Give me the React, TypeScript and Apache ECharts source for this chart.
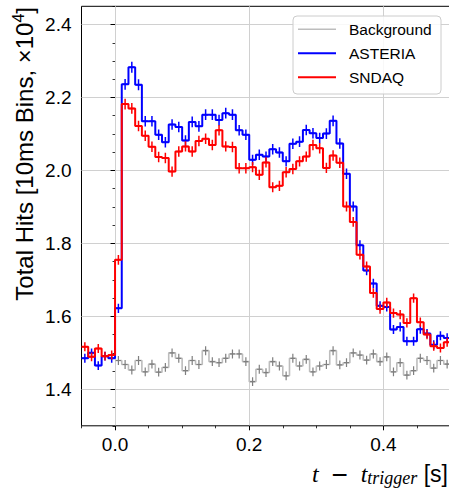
import React, { useEffect, useRef } from 'react';
import * as echarts from 'echarts';

const BIN_WIDTH = 0.01;
const SIGNAL_START = -0.05;
const BACKGROUND_START = 0.0;

const xTicks = [0.0, 0.2, 0.4];
const yTicks = [1.4, 1.6, 1.8, 2.0, 2.2, 2.4];

// Total hits per 10 ms bin (x 10^4), bins starting at -0.05 s
const asteria = [
  1.485, 1.5, 1.465, 1.491, 1.485, 1.622, 2.236, 2.283, 2.235, 2.135,
  2.135, 2.098, 2.077, 2.126, 2.119, 2.082, 2.133, 2.121, 2.153, 2.153,
  2.138, 2.157, 2.153, 2.11, 2.098, 2.029, 2.043, 2.038, 2.058, 2.049,
  2.025, 2.073, 2.079, 2.111, 2.102, 2.089, 2.101, 2.136, 2.074, 1.991,
  1.901, 1.795, 1.726, 1.69, 1.629, 1.626, 1.564, 1.571, 1.532, 1.532,
  1.565, 1.553, 1.522, 1.547, 1.541,
];

const sndaq = [
  1.517, 1.489, 1.512, 1.491, 1.494, 1.755, 2.182, 2.17, 2.122, 2.095,
  2.065, 2.037, 2.034, 1.997, 2.052, 2.066, 2.052, 2.081, 2.087, 2.07,
  2.11, 2.066, 2.064, 2.006, 2.006, 2.009, 1.988, 2.022, 1.954, 1.958,
  1.995, 2.004, 2.025, 2.038, 2.07, 2.061, 2.007, 2.041, 2.021, 1.901,
  1.859, 1.769, 1.737, 1.664, 1.62, 1.638, 1.609, 1.605, 1.582, 1.65,
  1.584, 1.55, 1.518, 1.513, 1.529,
];

// Background, bins starting at 0.0 s
const background = [
  1.479, 1.468, 1.453, 1.479, 1.448, 1.469, 1.447, 1.46, 1.5, 1.485,
  1.451, 1.479, 1.468, 1.506, 1.476, 1.473, 1.485, 1.497, 1.497, 1.476,
  1.421, 1.455, 1.446, 1.476, 1.464, 1.437, 1.485, 1.464, 1.482, 1.448,
  1.464, 1.468, 1.506, 1.467, 1.473, 1.5, 1.494, 1.48, 1.497, 1.476,
  1.489, 1.448, 1.473, 1.439, 1.451, 1.485, 1.479, 1.458, 1.479, 1.469,
];

const r4 = (v: number) => Math.round(v * 10000) / 10000;

function stepData(values: number[], start: number) {
  const pts = values.map((v, i) => [r4(start + i * BIN_WIDTH), v]);
  pts.push([r4(start + values.length * BIN_WIDTH), values[values.length - 1]]);
  return pts;
}

function errData(values: number[], start: number) {
  return values.map((v, i) => [r4(start + (i + 0.5) * BIN_WIDTH), v, Math.sqrt(v * 1e4) / 1e4]);
}

function lineSeries(name: string, values: number[], start: number, color: string, width: number, z: number) {
  return {
    type: 'line',
    name,
    data: stepData(values, start),
    step: 'end',
    showSymbol: false,
    symbol: 'none',
    color,
    lineStyle: { color, width },
    z,
    silent: true,
    xAxisIndex: 0,
    yAxisIndex: 0,
  };
}

function errSeries(name: string, values: number[], start: number, color: string, width: number, z: number) {
  return {
    type: 'custom',
    name: name + ' errors',
    data: errData(values, start),
    encode: { x: 0, y: 1 },
    clip: true,
    silent: true,
    z,
    xAxisIndex: 0,
    yAxisIndex: 0,
    renderItem: (_params: any, api: any) => {
      const x = api.value(0);
      const y = api.value(1);
      const e = api.value(2);
      const p1 = api.coord([x, y + e]);
      const p2 = api.coord([x, y - e]);
      const c = api.coord([x, y]);
      return {
        type: 'group',
        children: [
          { type: 'line', shape: { x1: p1[0], y1: p1[1], x2: p2[0], y2: p2[1] }, style: { stroke: color, lineWidth: width } },
          { type: 'line', shape: { x1: c[0] - 2.5, y1: c[1], x2: c[0] + 2.5, y2: c[1] }, style: { stroke: color, lineWidth: width } },
        ],
      };
    },
  };
}

const SANS = 'Liberation Sans';
const SERIF = 'Liberation Serif';

export default function App() {
  const ref = useRef<HTMLDivElement>(null);
  useEffect(() => {
    document.body.style.margin = '0';
    document.body.style.overflow = 'hidden';
    const chart = echarts.init(ref.current as HTMLDivElement, null, { renderer: 'svg' });
    const fmt = (v: number) => v.toFixed(1);
    const legendItems = [
      { label: 'Background', color: '#bdbdbd', width: 1.6 },
      { label: 'ASTERIA', color: '#0000ff', width: 2 },
      { label: 'SNDAQ', color: '#ff0000', width: 2 },
    ];
    const legendGraphics: any[] = [
      {
        type: 'rect',
        shape: { x: 293, y: 16, width: 148, height: 78, r: 4 },
        style: { fill: 'rgba(255,255,255,0.85)', stroke: '#cccccc', lineWidth: 1 },
        z: 100,
      },
    ];
    legendItems.forEach((it, i) => {
      const cy = 29.3 + i * 24;
      legendGraphics.push({
        type: 'line',
        shape: { x1: 298, y1: cy, x2: 336, y2: cy },
        style: { stroke: it.color, lineWidth: it.width },
        z: 101,
      });
      legendGraphics.push({
        type: 'text',
        x: 349,
        y: cy,
        style: { text: it.label, fontFamily: SANS, fontSize: 15.5, fill: '#000', align: 'left', verticalAlign: 'middle' },
        z: 101,
      });
    });

    const option: any = {
      animation: false,
      backgroundColor: '#ffffff',
      grid: {
        left: 81.5,
        top: 6.3,
        width: 369,
        height: 419.5,
        show: true,
        borderColor: '#000',
        borderWidth: 1,
        backgroundColor: 'transparent',
        containLabel: false,
        outerBoundsMode: 'none',
      },
      xAxis: [
        {
          type: 'value',
          min: -0.05,
          max: 0.5,
          interval: 0.05,
          position: 'bottom',
          axisLine: { show: false },
          axisTick: { show: true, length: 2.5, lineStyle: { color: '#000', width: 0.8 } },
          axisLabel: { show: false },
          splitLine: { show: false },
        },
        {
          type: 'value',
          min: -0.05,
          max: 0.5,
          interval: 0.05,
          position: 'bottom',
          axisLine: { show: false },
          axisTick: { show: true, customValues: xTicks, length: 4.5, lineStyle: { color: '#000', width: 1 } },
          axisLabel: { show: true, customValues: xTicks, formatter: fmt, fontFamily: SANS, fontSize: 19, color: '#000', margin: 9 },
          splitLine: { show: true, lineStyle: { color: '#d0d0d0', width: 1 } },
        },
      ],
      yAxis: [
        {
          type: 'value',
          min: 1.3,
          max: 2.45,
          interval: 0.05,
          position: 'left',
          axisLine: { show: false },
          axisTick: { show: true, length: 2.5, lineStyle: { color: '#000', width: 0.8 } },
          axisLabel: { show: false },
          splitLine: { show: false },
        },
        {
          type: 'value',
          min: 1.3,
          max: 2.45,
          interval: 0.05,
          position: 'left',
          axisLine: { show: false },
          axisTick: { show: true, customValues: yTicks, length: 4.5, lineStyle: { color: '#000', width: 1 } },
          axisLabel: { show: true, customValues: yTicks, formatter: fmt, fontFamily: SANS, fontSize: 19, color: '#000', margin: 10 },
          splitLine: { show: true, lineStyle: { color: '#d0d0d0', width: 1 } },
        },
      ],
      series: [
        lineSeries('Background', background, BACKGROUND_START, '#bdbdbd', 1.6, 2),
        errSeries('Background', background, BACKGROUND_START, '#7f7f7f', 1.2, 3),
        lineSeries('ASTERIA', asteria, SIGNAL_START, '#0000ff', 2, 4),
        errSeries('ASTERIA', asteria, SIGNAL_START, '#0000ff', 1.5, 5),
        lineSeries('SNDAQ', sndaq, SIGNAL_START, '#ff0000', 2, 6),
        errSeries('SNDAQ', sndaq, SIGNAL_START, '#ff0000', 1.5, 7),
      ],
      graphic: [
        ...legendGraphics,
        {
          type: 'text',
          x: 24,
          y: 7,
          rotation: Math.PI / 2,
          style: {
            text: '{a|Total Hits [10ms Bins, \u00d710}{b|4}{a|]}',
            align: 'right',
            verticalAlign: 'middle',
            fill: '#000',
            rich: {
              a: { fontFamily: SANS, fontSize: 24, lineHeight: 28, fill: '#000' },
              b: { fontFamily: SANS, fontSize: 16, lineHeight: 16, verticalAlign: 'top', fill: '#000' },
            },
          },
          z: 50,
        },
        {
          type: 'text',
          x: 448,
          y: 474,
          style: {
            text: '{i|t}{m|  }{n|\u2212}{m|  }{i|t}{s|trigger}{m| [s]}',
            align: 'right',
            verticalAlign: 'middle',
            fill: '#000',
            rich: {
              i: { fontFamily: SERIF, fontStyle: 'italic', fontSize: 24, lineHeight: 26, fill: '#000' },
              m: { fontFamily: SANS, fontSize: 23, lineHeight: 26, fill: '#000' },
              n: { fontFamily: SANS, fontSize: 28, lineHeight: 26, fill: '#000' },
              s: { fontFamily: SERIF, fontStyle: 'italic', fontSize: 18, lineHeight: 18, verticalAlign: 'bottom', fill: '#000' },
            },
          },
          z: 50,
        },
      ],
    };
    chart.setOption(option);
    return () => chart.dispose();
  }, []);
  return <div ref={ref} style={{ width: 449, height: 488 }} />;
}
